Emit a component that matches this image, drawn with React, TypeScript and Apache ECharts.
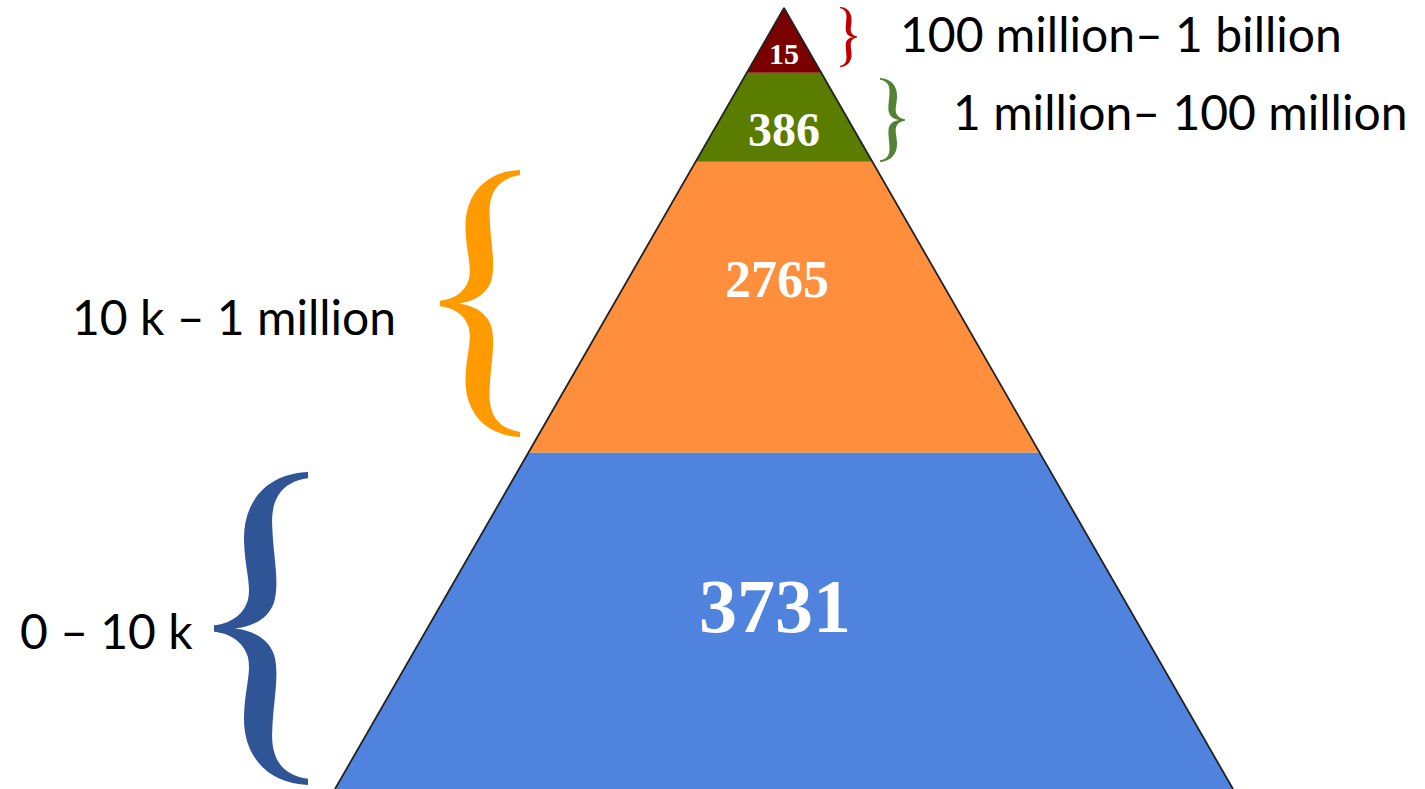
import React, { useEffect, useRef } from "react";
import * as echarts from "echarts";

// ---- data ----
const layerNames = ["0 – 10 k", "10 k – 1 million", "1 million– 100 million", "100 million– 1 billion"];
const layerCounts = [3731, 2765, 386, 15];
// layer boundaries, in % of the pyramid height (0 = base, 100 = apex)
const layerBottoms = [0, 43.1, 80.3, 91.7];
const layerTops = [43.1, 80.3, 91.7, 100];
// ---- styles / layout ----
const layerColors = ["#5083DE", "#FF8F3D", "#5A7D00", "#7A0000"];
const braceColors = ["#2F5597", "#FF9A00", "#548235", "#C00000"];
const labelAnchorY = [23.4, 65.2, 84.5, 94.2];
const labelDx = [-9, -7, 0, 0];
const labelSizes = [76, 52, 48, 30];

const BRACE_D =
  "M100 0 C58 1 30 18 32 45 C33 62 40 72 36 82 C31 92 16 97 0 98 L0 102 " +
  "C16 103 31 108 36 118 C40 128 33 138 32 155 C30 182 58 199 100 200 L100 196 " +
  "C74 194 60 184 62 165 C63 146 70 130 64 117 C58 106 40 101 22 100 " +
  "C40 99 58 94 64 83 C70 70 63 54 62 35 C60 16 74 6 100 4 Z";
echarts.graphic.registerShape("brace", echarts.graphic.extendPath(BRACE_D, {}));

// brace boxes: [x of tip-side origin, top, width (signed), height]
const braceBoxes = [
  [214, 472, 94, 313],
  [440, 170, 80, 267],
  [905, 78, -25, 84],
  [857, 7, -17, 60],
];
const sideLabelPos = [
  [20, 630],
  [72, 316],
  [953, 111],
  [900, 33],
];

export default function App() {
  const ref = useRef<HTMLDivElement>(null);
  useEffect(() => {
    if (!ref.current) return;
    const chart = echarts.init(ref.current, null, { renderer: "svg" });
    const data = layerCounts.map((c, i) => [i, layerBottoms[i], layerTops[i], c]);
    const halfW = (y: number) => (100 - y) / 100;

    const graphics: any[] = [];
    braceBoxes.forEach((b, i) => {
      graphics.push({
        type: "brace",
        x: b[0],
        y: b[1],
        scaleX: b[2] / 100,
        scaleY: b[3] / 200,
        style: { fill: braceColors[i] },
      });
    });
    sideLabelPos.forEach((p, i) => {
      graphics.push({
        type: "text",
        x: p[0],
        y: p[1],
        style: {
          text: layerNames[i],
          fill: "#000",
          fontFamily: "Lato",
          fontSize: 48,
          align: "left",
          verticalAlign: "middle",
        },
      });
    });

    chart.setOption({
      animation: false,
      backgroundColor: "#fff",
      grid: { left: 335, right: 192, top: 8, bottom: 0 },
      xAxis: { type: "value", min: -1, max: 1, show: false },
      yAxis: { type: "value", min: 0, max: 100, show: false },
      graphic: graphics,
      series: [
        {
          type: "custom",
          data,
          encode: { x: 0, y: [1, 2] },
          renderItem: (params: any, api: any) => {
            const i = params.dataIndex;
            const b = api.value(1);
            const t = api.value(2);
            const pts = [
              api.coord([-halfW(b), b]),
              api.coord([halfW(b), b]),
              api.coord([halfW(t), t]),
              api.coord([-halfW(t), t]),
            ];
            const c = api.coord([0, labelAnchorY[i]]);
            return {
              type: "group",
              children: [
                { type: "polygon", shape: { points: pts }, style: { fill: layerColors[i] } },
                {
                  type: "text",
                  x: c[0] + labelDx[i],
                  y: c[1],
                  style: {
                    text: String(api.value(3)),
                    fill: "#fff",
                    fontFamily: "Liberation Serif",
                    fontWeight: "bold",
                    fontSize: labelSizes[i],
                    align: "center",
                    verticalAlign: "middle",
                  },
                },
              ],
            };
          },
          z: 2,
        },
        {
          type: "line",
          data: [[-1, 0], [0, 100], [1, 0]],
          showSymbol: false,
          symbol: "none",
          clip: false,
          silent: true,
          lineStyle: { color: "#222", width: 1.8 },
          z: 3,
        },
      ],
    });
    return () => chart.dispose();
  }, []);
  return (
    <div
      ref={ref}
      style={{ position: "absolute", left: 0, top: 0, width: 1425, height: 789 }}
    />
  );
}
